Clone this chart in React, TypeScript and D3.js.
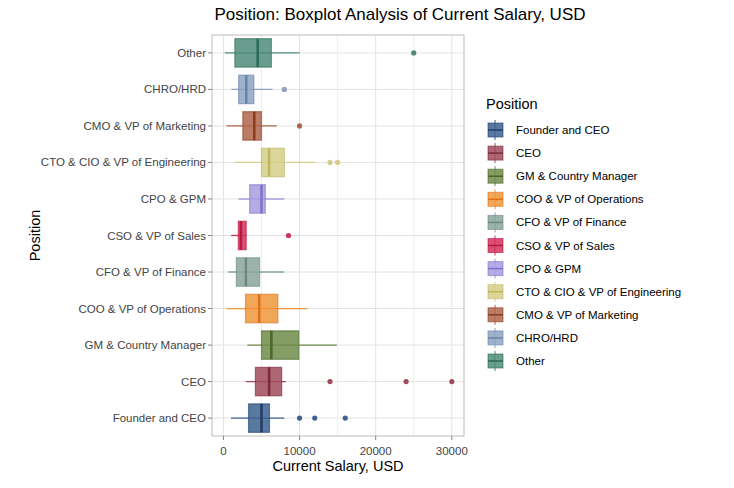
import React, { useEffect, useRef } from 'react';
import * as d3 from 'd3';

const categories = ["Founder and CEO", "CEO", "GM & Country Manager", "COO & VP of Operations", "CFO & VP of Finance", "CSO & VP of Sales", "CPO & GPM", "CTO & CIO & VP of Engineering", "CMO & VP of Marketing", "CHRO/HRD", "Other"];
const fills = ["#3d6190", "#a04a5c", "#6f8c4a", "#f0963a", "#8aa69c", "#d4305c", "#a99ce0", "#d6cf8a", "#b0664c", "#8ea4c2", "#4f8c7a"];
const strokes = ["#1f3d66", "#7a2a3a", "#4a6628", "#e07018", "#6a8a80", "#b81840", "#8070cc", "#beb660", "#8a3c20", "#6a82a6", "#2a6a58"];
// [lowWhisker, q1, median, q3, highWhisker]
const stats = [
  [1000, 3300, 5000, 6050, 8000],
  [2950, 4200, 6000, 7650, 8200],
  [3150, 5000, 6300, 9900, 14900],
  [450, 2900, 4700, 7150, 11000],
  [650, 1700, 2950, 4750, 8000],
  [1000, 1950, 2300, 3000, 3000],
  [2000, 3450, 5000, 5500, 8000],
  [1500, 5000, 6000, 8000, 12000],
  [400, 2550, 4050, 5000, 7000],
  [1050, 2000, 3000, 4000, 6450],
  [200, 1500, 4500, 6300, 10000],
];
const outliers = [[10000, 12000, 16000], [14000, 24000, 30000], [], [], [], [8550], [], [14000, 15000], [10000], [8000], [25000]];
const xTicks = [0, 10000, 20000, 30000];

export default function App() {
  const ref = useRef<SVGSVGElement>(null);
  const width = 734, height = 488;
  useEffect(() => {
    const svg = d3.select(ref.current!);
    svg.selectAll("*").remove();
    const font = "Liberation Sans, Arial, sans-serif";
    const left = 212, right = 464, top = 35, bottom = 436;
    const x = d3.scaleLinear().domain([-1500, 31600]).range([left, right]);
    const y = d3.scaleBand().domain(categories.slice().reverse()).range([top, bottom]).paddingInner(0.22).paddingOuter(0.1);
    svg.append("rect").attr("width", width).attr("height", height).attr("fill", "#fff");
    const grid = svg.append("g");
    xTicks.forEach(t => grid.append("line").attr("x1", x(t)).attr("x2", x(t)).attr("y1", top).attr("y2", bottom).attr("stroke", "#e3e3e3"));
    [5000, 15000, 25000].forEach(t => grid.append("line").attr("x1", x(t)).attr("x2", x(t)).attr("y1", top).attr("y2", bottom).attr("stroke", "#efefef"));
    categories.forEach(c => {
      const cy = y(c)! + y.bandwidth() / 2;
      grid.append("line").attr("x1", left).attr("x2", right).attr("y1", cy).attr("y2", cy).attr("stroke", "#e3e3e3");
    });
    svg.append("rect").attr("x", left).attr("y", top).attr("width", right - left).attr("height", bottom - top).attr("fill", "none").attr("stroke", "#bbb");

    categories.forEach((c, i) => {
      const [lo, q1, med, q3, hi] = stats[i];
      const by = y(c)!, bh = y.bandwidth(), cy = by + bh / 2;
      const g = svg.append("g");
      g.append("line").attr("x1", x(lo)).attr("x2", x(hi)).attr("y1", cy).attr("y2", cy).attr("stroke", fills[i]).attr("stroke-width", 1.3);
      g.append("rect").attr("x", x(q1)).attr("y", by).attr("width", x(q3) - x(q1)).attr("height", bh)
        .attr("fill", fills[i]).attr("fill-opacity", 0.85).attr("stroke", strokes[i]).attr("stroke-opacity", 0.6).attr("stroke-width", 1.2);
      g.append("line").attr("x1", x(med)).attr("x2", x(med)).attr("y1", by).attr("y2", by + bh).attr("stroke", strokes[i]).attr("stroke-width", 2.5);
      outliers[i].forEach(o => g.append("circle").attr("cx", x(o)).attr("cy", cy).attr("r", 2.6).attr("fill", fills[i]));
    });

    const ax = svg.append("g").style("font-family", font);
    categories.forEach(c => {
      const cy = y(c)! + y.bandwidth() / 2;
      ax.append("line").attr("x1", left - 4).attr("x2", left).attr("y1", cy).attr("y2", cy).attr("stroke", "#888");
      ax.append("text").attr("x", left - 6).attr("y", cy).attr("dy", "0.35em").attr("text-anchor", "end").attr("font-size", 11.5).attr("fill", "#444").text(c);
    });
    xTicks.forEach(t => {
      ax.append("line").attr("x1", x(t)).attr("x2", x(t)).attr("y1", bottom).attr("y2", bottom + 4).attr("stroke", "#888");
      ax.append("text").attr("x", x(t)).attr("y", bottom + 19).attr("text-anchor", "middle").attr("font-size", 11.5).attr("fill", "#444").text(String(t));
    });
    ax.append("text").attr("x", (left + right) / 2).attr("y", 471).attr("text-anchor", "middle").attr("font-size", 14.5).text("Current Salary, USD");
    ax.append("text").attr("transform", `translate(40,${(top + bottom) / 2}) rotate(-90)`).attr("text-anchor", "middle").attr("font-size", 14.5).text("Position");
    ax.append("text").attr("x", 400).attr("y", 20).attr("text-anchor", "middle").attr("font-size", 17).text("Position: Boxplot Analysis of Current Salary, USD");

    const lg = svg.append("g").style("font-family", font);
    lg.append("text").attr("x", 486).attr("y", 109).attr("font-size", 14.5).text("Position");
    categories.forEach((c, i) => {
      const ly = 130 + i * 23.1;
      lg.append("line").attr("x1", 495).attr("x2", 495).attr("y1", ly - 10).attr("y2", ly + 10).attr("stroke", fills[i]);
      lg.append("rect").attr("x", 488).attr("y", ly - 7).attr("width", 15).attr("height", 14).attr("fill", fills[i]).attr("fill-opacity", 0.85).attr("stroke", strokes[i]).attr("stroke-opacity", 0.6);
      lg.append("line").attr("x1", 488).attr("x2", 503).attr("y1", ly).attr("y2", ly).attr("stroke", strokes[i]).attr("stroke-width", 1.5);
      lg.append("text").attr("x", 516).attr("y", ly).attr("dy", "0.35em").attr("font-size", 11.5).text(c);
    });
  }, []);
  return <svg ref={ref} width={width} height={height} style={{ display: "block", margin: -8 }} />;
}
